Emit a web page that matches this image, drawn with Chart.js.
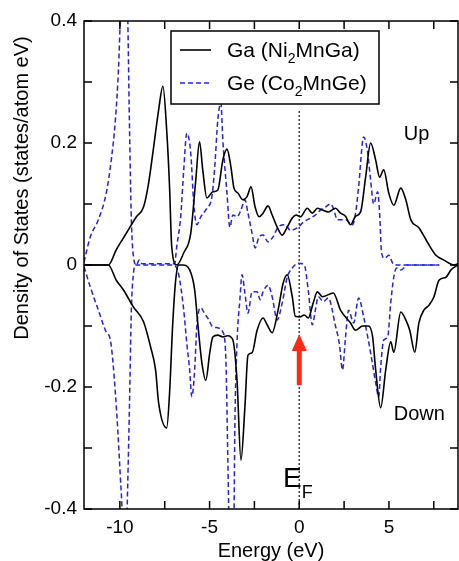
<!DOCTYPE html>
<html>
<head>
<meta charset="utf-8">
<script src="https://cdn.jsdelivr.net/npm/chart.js@4.4.0/dist/chart.umd.min.js"></script>
<style>
  html, body { margin: 0; padding: 0; background: #fff; }
  #wrap { width: 459px; height: 561px; }
</style>
</head>
<body>
<div id="wrap"><canvas id="dosChart" width="459" height="561"></canvas></div>
<script>
// Ga (Ni2MnGa) spin up / down, energy in eV, DOS in states/atom eV
const gaUpE = [-12.0, -10.64, -10.2, -9.64, -9.08, -8.68, -8.4, -8.12, -7.84, -7.6, -7.39, -7.23, -7.11, -6.83, -6.44, -6.05, -5.77, -5.56, -5.38, -5.15, -4.82, -4.54, -4.26, -4.03, -3.81, -3.64, -3.42, -3.14, -2.91, -2.69, -2.46, -2.24, -2.02, -1.74, -1.51, -1.23, -0.95, -0.67, -0.39, -0.17, 0.06, 0.45, 0.73, 1.01, 1.29, 1.62, 2.02, 2.3, 2.58, 2.86, 3.14, 3.42, 3.7, 3.98, 4.26, 4.48, 4.71, 4.99, 5.27, 5.66, 5.94, 6.22, 6.67, 7.17, 7.62, 8.07, 8.63, 8.85];
const gaUp = [0, 0, 0.025, 0.052, 0.079, 0.095, 0.134, 0.193, 0.254, 0.293, 0.221, 0.128, 0.03, 0.0, 0.02, 0.052, 0.139, 0.202, 0.156, 0.11, 0.12, 0.123, 0.172, 0.19, 0.161, 0.126, 0.118, 0.107, 0.112, 0.128, 0.095, 0.079, 0.085, 0.097, 0.082, 0.062, 0.049, 0.062, 0.077, 0.082, 0.079, 0.093, 0.085, 0.093, 0.09, 0.087, 0.093, 0.085, 0.08, 0.066, 0.08, 0.087, 0.144, 0.2, 0.172, 0.144, 0.156, 0.118, 0.098, 0.126, 0.107, 0.074, 0.061, 0.036, 0.016, 0.008, 0.0, 0.002];

const gaDownE = [-12.0, -10.64, -10.2, -9.8, -9.24, -8.68, -8.29, -8.01, -7.84, -7.39, -7.23, -7.06, -6.89, -6.72, -6.5, -6.11, -5.83, -5.66, -5.43, -5.21, -4.99, -4.82, -4.54, -4.26, -3.98, -3.7, -3.47, -3.25, -3.03, -2.86, -2.63, -2.35, -2.02, -1.79, -1.51, -1.18, -0.9, -0.67, -0.39, -0.22, 0.06, 0.28, 0.5, 0.78, 1.01, 1.29, 1.9, 2.3, 2.86, 3.14, 3.53, 3.87, 4.09, 4.26, 4.54, 4.82, 5.1, 5.27, 5.66, 5.94, 6.16, 6.44, 6.67, 6.95, 7.23, 7.51, 7.79, 8.18, 8.46, 8.85];
const gaDown = [0, 0, -0.025, -0.041, -0.069, -0.093, -0.134, -0.172, -0.226, -0.267, -0.21, -0.1, -0.025, 0.0, 0.0, -0.008, -0.041, -0.095, -0.16, -0.189, -0.144, -0.118, -0.115, -0.118, -0.116, -0.123, -0.189, -0.32, -0.233, -0.148, -0.144, -0.107, -0.087, -0.098, -0.111, -0.074, -0.03, -0.016, -0.052, -0.084, -0.085, -0.082, -0.087, -0.062, -0.044, -0.052, -0.046, -0.074, -0.095, -0.107, -0.1, -0.1, -0.118, -0.172, -0.234, -0.172, -0.126, -0.143, -0.077, -0.09, -0.107, -0.143, -0.095, -0.074, -0.066, -0.052, -0.025, -0.02, -0.008, 0.0];

// Ge (Co2MnGe) spin up / down
const geUpE = [-12.0, -11.65, -11.2, -10.76, -10.48, -10.25, -10.08, -9.96, -9.78, -9.57, -9.47, -9.36, -9.24, -9.07, -8.93, -8.76, -6.95, -6.83, -6.61, -6.44, -6.27, -6.05, -5.88, -5.71, -5.49, -5.15, -4.87, -4.71, -4.54, -4.37, -4.26, -4.03, -3.87, -3.7, -3.47, -3.25, -3.03, -2.86, -2.63, -2.46, -2.24, -2.02, -1.74, -1.46, -1.18, -0.78, -0.5, -0.11, 0.22, 0.62, 0.9, 1.18, 1.46, 1.74, 1.9, 2.13, 2.58, 2.97, 3.14, 3.31, 3.59, 3.81, 3.98, 4.15, 4.37, 4.48, 4.59, 4.76, 4.99, 5.21, 5.49, 7.8];
const geUp = [0.005, 0.046, 0.074, 0.118, 0.172, 0.238, 0.32, 0.42, 0.6, 0.42, 0.238, 0.074, 0.013, 0.0, 0.008, 0.002, 0.002, 0.03, 0.079, 0.156, 0.216, 0.184, 0.1, 0.066, 0.079, 0.093, 0.112, 0.161, 0.238, 0.266, 0.205, 0.118, 0.062, 0.082, 0.079, 0.09, 0.107, 0.085, 0.052, 0.028, 0.046, 0.049, 0.038, 0.046, 0.062, 0.066, 0.057, 0.061, 0.07, 0.077, 0.082, 0.09, 0.095, 0.1, 0.093, 0.074, 0.074, 0.066, 0.085, 0.128, 0.21, 0.185, 0.139, 0.1, 0.12, 0.085, 0.02, 0.011, 0.016, 0.003, 0.0, 0.0];

const geDownE = [-12.0, -11.65, -11.2, -10.76, -10.53, -10.25, -9.97, -9.86, -9.75, -9.61, -9.47, -9.36, -9.24, -9.13, -7.0, -6.72, -6.44, -6.27, -6.11, -5.99, -5.83, -5.71, -5.49, -5.27, -5.04, -4.87, -4.54, -4.26, -4.09, -3.98, -3.92, -3.78, -3.64, -3.59, -3.47, -3.31, -3.19, -3.03, -2.86, -2.63, -2.35, -2.18, -2.02, -1.74, -1.51, -1.23, -0.95, -0.67, -0.39, -0.06, 0.28, 0.5, 0.73, 0.9, 1.06, 1.34, 1.62, 2.02, 2.24, 2.41, 2.58, 2.75, 3.03, 3.31, 3.59, 3.98, 4.26, 4.43, 4.54, 4.71, 4.93, 5.1, 5.27, 5.43, 5.66, 6.05, 7.8];
const geDown = [-0.003, -0.036, -0.074, -0.11, -0.123, -0.21, -0.35, -0.42, -0.6, -0.42, -0.238, -0.074, -0.013, 0.0, 0.0, -0.016, -0.074, -0.128, -0.172, -0.216, -0.172, -0.1, -0.07, -0.08, -0.09, -0.1, -0.103, -0.11, -0.156, -0.32, -0.42, -0.6, -0.42, -0.266, -0.128, -0.057, -0.016, -0.046, -0.079, -0.044, -0.044, -0.057, -0.044, -0.033, -0.052, -0.09, -0.062, -0.02, -0.005, 0.003, 0.0, -0.041, -0.098, -0.074, -0.052, -0.06, -0.054, -0.1, -0.13, -0.172, -0.118, -0.074, -0.095, -0.054, -0.085, -0.144, -0.193, -0.216, -0.167, -0.123, -0.118, -0.062, -0.02, -0.005, -0.008, 0.0, 0.0];

// axis ticks
const xTickValues = [-10, -5, 0, 5];
const xMinorTicks = [-10, -7.5, -5, -2.5, 0, 2.5, 5, 7.5];
const yTickValues = [-0.4, -0.2, 0, 0.2, 0.4];
const yMinorTicks = [-0.4, -0.3, -0.2, -0.1, 0, 0.1, 0.2, 0.3, 0.4];

const FONT = "'Liberation Sans', Arial, sans-serif";
const BLUE = '#2424dd';
const RED = '#ff2a14';

const pts = (xs, ys) => xs.map((x, i) => ({ x: x, y: ys[i] }));

function lineSet(label, xs, ys, color, dash) {
    return {
        label: label,
        data: pts(xs, ys),
        borderColor: color,
        borderWidth: dash ? 1.5 : 1.6,
        borderDash: dash || [],
        pointRadius: 0,
        showLine: true,
        fill: false,
        cubicInterpolationMode: 'monotone'
    };
}

// text with a subscript part, e.g. Ni_2
function drawSubText(ctx, parts, x, y, size) {
    let cx = x;
    parts.forEach(p => {
        const fs = p.sub ? Math.round(size * 0.68) : size;
        ctx.font = fs + 'px ' + FONT;
        ctx.fillText(p.t, cx, p.sub ? y + size * 0.28 : y);
        cx += ctx.measureText(p.t).width;
    });
}

const decor = {
    id: 'decor',
    beforeDatasetsDraw(chart) {
        const { ctx, chartArea: a, scales: { x, y } } = chart;
        const px = x.getPixelForValue(0);
        ctx.save();
        ctx.strokeStyle = '#000';
        ctx.lineWidth = 1.5;
        ctx.setLineDash([1.5, 2.5]);
        ctx.beginPath();
        ctx.moveTo(px, y.getPixelForValue(0.252));
        ctx.lineTo(px, a.bottom);
        ctx.stroke();
        ctx.restore();
    },
    afterDraw(chart) {
        const { ctx, chartArea: a, scales: { x, y } } = chart;
        ctx.save();

        // frame + inward ticks
        ctx.strokeStyle = '#000';
        ctx.lineWidth = 1.5;
        ctx.strokeRect(a.left, a.top, a.right - a.left, a.bottom - a.top);
        ctx.beginPath();
        xMinorTicks.forEach(v => {
            const px = x.getPixelForValue(v);
            ctx.moveTo(px, a.bottom); ctx.lineTo(px, a.bottom - 8);
            ctx.moveTo(px, a.top); ctx.lineTo(px, a.top + 8);
        });
        yMinorTicks.forEach(v => {
            const py = y.getPixelForValue(v);
            ctx.moveTo(a.left, py); ctx.lineTo(a.left + 8, py);
            ctx.moveTo(a.right, py); ctx.lineTo(a.right - 8, py);
        });
        ctx.stroke();

        // y axis title
        ctx.fillStyle = '#000';
        ctx.save();
        ctx.translate(22, 188);
        ctx.rotate(-Math.PI / 2);
        ctx.font = '20px ' + FONT;
        ctx.textAlign = 'center';
        ctx.textBaseline = 'middle';
        ctx.fillText('Density of States (states/atom eV)', 0, 0);
        ctx.restore();

        // Up / Down / E_F labels
        ctx.textAlign = 'left';
        ctx.textBaseline = 'alphabetic';
        ctx.font = '20px ' + FONT;
        ctx.fillText('Up', x.getPixelForValue(5.83), y.getPixelForValue(0.205));
        ctx.fillText('Down', x.getPixelForValue(5.27), y.getPixelForValue(-0.254));
        const ex = x.getPixelForValue(-0.9), ey = y.getPixelForValue(-0.364);
        ctx.font = '28px ' + FONT;
        ctx.fillText('E', ex, ey);
        const ew = ctx.measureText('E').width;
        ctx.font = '18px ' + FONT;
        ctx.fillText('F', ex + ew, ey + 11);

        // red arrow pointing at E_F
        const ax = x.getPixelForValue(0);
        const tip = y.getPixelForValue(-0.113);
        const tail = y.getPixelForValue(-0.197);
        ctx.fillStyle = RED;
        ctx.fillRect(ax - 2.5, tip + 14, 5, tail - tip - 14);
        ctx.beginPath();
        ctx.moveTo(ax, tip);
        ctx.lineTo(ax + 7.5, tip + 17);
        ctx.lineTo(ax - 7.5, tip + 17);
        ctx.closePath();
        ctx.fill();

        // legend box
        const lx = a.left + 87, ly = a.top + 10;
        ctx.fillStyle = '#fff';
        ctx.fillRect(lx, ly, 208, 73);
        ctx.strokeStyle = '#000';
        ctx.lineWidth = 1.5;
        ctx.strokeRect(lx, ly, 208, 73);
        ctx.beginPath();
        ctx.lineWidth = 1.6;
        ctx.moveTo(lx + 9, ly + 19); ctx.lineTo(lx + 40, ly + 19);
        ctx.stroke();
        ctx.beginPath();
        ctx.strokeStyle = BLUE;
        ctx.lineWidth = 1.5;
        ctx.setLineDash([5, 3]);
        ctx.moveTo(lx + 9, ly + 52); ctx.lineTo(lx + 40, ly + 52);
        ctx.stroke();
        ctx.setLineDash([]);
        ctx.fillStyle = '#000';
        drawSubText(ctx, [{ t: 'Ga (Ni' }, { t: '2', sub: true }, { t: 'MnGa)' }], lx + 56, ly + 26, 21);
        drawSubText(ctx, [{ t: 'Ge (Co' }, { t: '2', sub: true }, { t: 'MnGe)' }], lx + 56, ly + 59, 21);

        ctx.restore();
    }
};

new Chart(document.getElementById('dosChart'), {
    type: 'scatter',
    data: {
        datasets: [
            lineSet('Ga (Ni2MnGa) up', gaUpE, gaUp, '#000', null),
            lineSet('Ga (Ni2MnGa) down', gaDownE, gaDown, '#000', null),
            lineSet('Ge (Co2MnGe) up', geUpE, geUp, BLUE, [5, 3]),
            lineSet('Ge (Co2MnGe) down', geDownE, geDown, BLUE, [5, 3])
        ]
    },
    options: {
        responsive: false,
        animation: false,
        layout: { padding: { top: 21, right: 1, left: 0, bottom: 0 } },
        plugins: { legend: { display: false }, tooltip: { enabled: false } },
        scales: {
            x: {
                type: 'linear',
                min: -12,
                max: 8.85,
                afterBuildTicks: axis => { axis.ticks = xTickValues.map(v => ({ value: v })); },
                afterFit: scale => { scale.height = 52; },
                grid: { display: false, drawTicks: false },
                border: { display: false },
                ticks: { color: '#000', font: { family: FONT, size: 19 }, padding: 7, maxRotation: 0,
                         callback: v => String(v) },
                title: { display: true, text: 'Energy (eV)', color: '#000',
                         font: { family: FONT, size: 20 }, padding: { top: 0, bottom: -2 } }
            },
            y: {
                min: -0.4,
                max: 0.4,
                afterBuildTicks: axis => { axis.ticks = yTickValues.map(v => ({ value: v })); },
                afterFit: scale => { scale.width = 84; },
                grid: { display: false, drawTicks: false },
                border: { display: false },
                ticks: { color: '#000', font: { family: FONT, size: 19 }, padding: 7,
                         callback: v => String(v) }
            }
        }
    },
    plugins: [decor]
});
</script>
</body>
</html>
